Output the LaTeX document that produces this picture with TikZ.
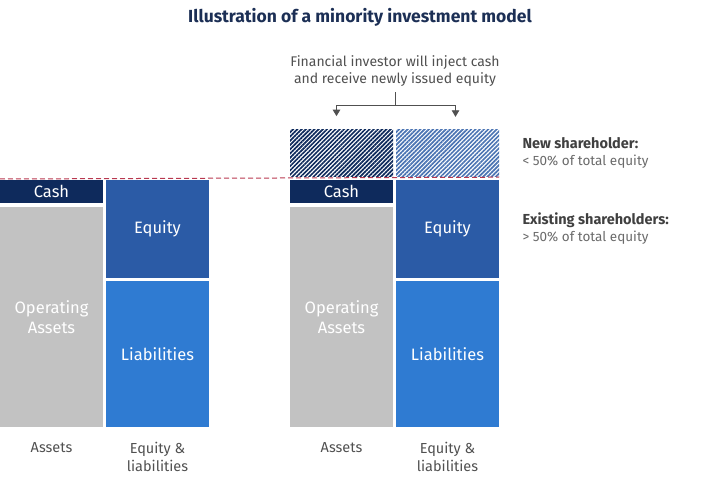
\documentclass[tikz,border=0pt]{standalone}
\usepackage{fontspec}
\setmainfont{Fira Sans}
\usetikzlibrary{patterns.meta,arrows.meta}

\definecolor{navy}{HTML}{0E2A5C}
\definecolor{eqblue}{HTML}{2B5BA6}
\definecolor{liblue}{HTML}{2F7BD2}
\definecolor{opgray}{HTML}{C2C2C2}
\definecolor{titleblue}{HTML}{1C2F55}
\definecolor{txtgray}{HTML}{505050}
\definecolor{dashred}{HTML}{B8384F}

\tikzset{
  block/.style={draw=none, inner sep=0pt, minimum width=103pt, text=white, align=center, font=\fontsize{16.5}{20}\selectfont},
  hatch/.style={draw=none, inner sep=0pt, minimum width=103pt, minimum height=47pt},
  axislabel/.style={text=txtgray, align=center, font=\fontsize{14.5}{18}\selectfont},
  sidehead/.style={text=txtgray!80!black, anchor=west, font=\fontsize{14.5}{16}\selectfont\bfseries},
  sidenote/.style={text=txtgray!85, anchor=west, font=\fontsize{13.5}{15}\selectfont},
  feed/.style={txtgray, line width=0.9pt, -{Triangle[width=7.5pt,length=6.5pt]}},
}

\begin{document}
\begin{tikzpicture}[x=1pt,y=-1pt]
    \useasboundingbox (0,0) rectangle (720,486);

    \node[text=titleblue, font=\fontsize{17.5}{20}\selectfont\bfseries] (title) at (360,17) {Illustration of a minority investment model};

    % before
    \node[block, fill=navy, minimum height=23pt] (cashA) at (51.5,191.5) {Cash};
    \node[block, fill=opgray, minimum height=220pt] (opA) at (51.5,317) {Operating\\Assets};
    \node[block, fill=eqblue, minimum height=98pt] (eqA) at (157.5,229) {Equity};
    \node[block, fill=liblue, minimum height=146pt] (libA) at (157.5,354) {Liabilities};
    \node[axislabel] (assetsA) at (51.5,448) {Assets};
    \node[axislabel] (eqlibA) at (157.5,457) {Equity \&\\liabilities};

    % after
    \node[block, fill=navy, minimum height=23pt] (cashB) at (341.5,191.5) {Cash};
    \node[block, fill=opgray, minimum height=220pt] (opB) at (341.5,317) {Operating\\Assets};
    \node[block, fill=eqblue, minimum height=98pt] (eqB) at (447.5,229) {Equity};
    \node[block, fill=liblue, minimum height=146pt] (libB) at (447.5,354) {Liabilities};
    \node[axislabel] (assetsB) at (341.5,448) {Assets};
    \node[axislabel] (eqlibB) at (447.5,457) {Equity \&\\liabilities};

    \node[hatch, pattern={Lines[angle=45,distance=3pt,line width=1.7pt]}, pattern color=navy] (newA) at (341.5,153.5) {};
    \node[hatch, pattern={Lines[angle=45,distance=3pt,line width=1.7pt]}, pattern color=eqblue!85] (newB) at (447.5,153.5) {};

    \draw[dashred, line width=1pt, dash pattern=on 5pt off 3pt] (0,179) -- (newB.south east);

    % investor note
    \node[text=txtgray, align=center, font=\fontsize{14}{17}\selectfont] (investor) at (395,71.5) {Financial investor will inject cash\\and receive newly issued equity};
    \coordinate (split) at (395,105);
    \draw[txtgray, line width=0.9pt] (investor.south) ++(0,2) -- (split);
    \draw[feed] (split) -| ([xshift=-5pt,yshift=13pt]newA.north);
    \draw[feed] (split) -| ([xshift=8pt,yshift=13pt]newB.north);

    % side notes
    \node[sidehead] (newhead) at (519,143) {New shareholder:};
    \node[sidenote] (newnote) at (519,162) {< 50\% of total equity};
    \node[sidehead] (oldhead) at (519,220) {Existing shareholders:};
    \node[sidenote] (oldnote) at (519,238) {> 50\% of total equity};
\end{tikzpicture}
\end{document}
